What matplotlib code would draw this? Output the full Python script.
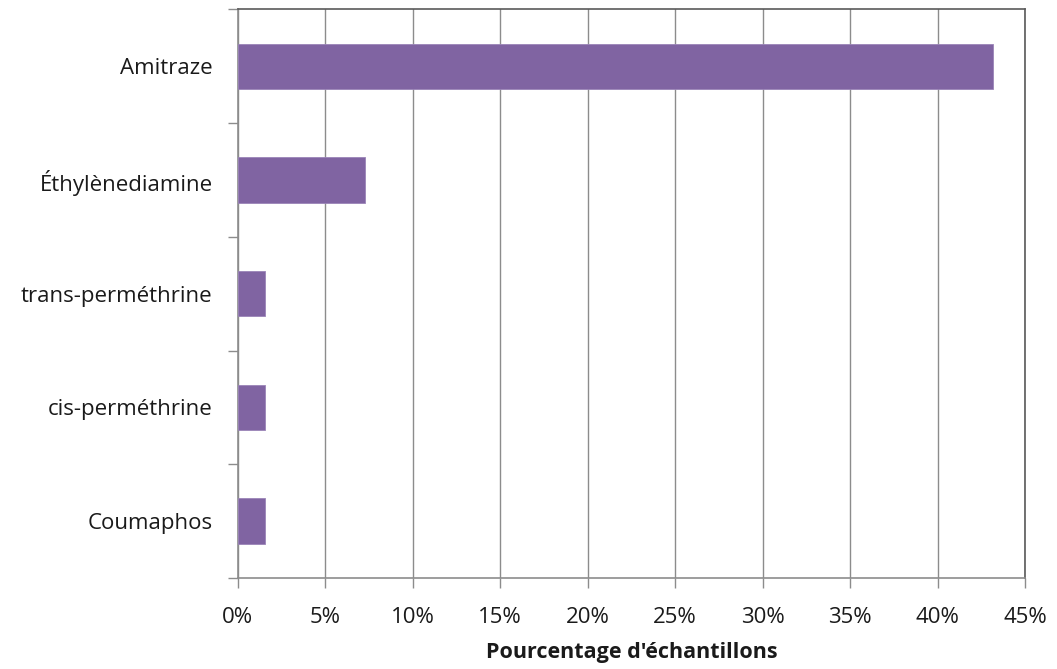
import numpy as np
import matplotlib
matplotlib.use("Agg")
import matplotlib.pyplot as plt
from matplotlib.ticker import FuncFormatter

categories = ["Amitraze", "Éthylènediamine", "trans-perméthrine", "cis-perméthrine", "Coumaphos"]
values = [43.2, 7.27, 1.56, 1.56, 1.56]
x_ticks = [0, 5, 10, 15, 20, 25, 30, 35, 40, 45]

bar_color = "#8064A2"
grid = "#8C8C8C"
border = "#5A5A5A"
text = "#1A1A1A"

plt.rcParams["font.family"] = ["Open Sans", "DejaVu Sans"]

fig = plt.figure(figsize=(10.57, 6.69), dpi=100, facecolor="white")
ax = fig.add_axes([0.2249, 0.136, 0.7448, 0.8498])

y = np.arange(len(categories))
ax.barh(y, values, height=0.4, color=bar_color, edgecolor="#9A84B8", linewidth=0.6, zorder=3)

ax.set_xlim(0, 45)
ax.set_ylim(len(categories) - 0.5, -0.5)

ax.set_xticks(x_ticks)
ax.xaxis.set_major_formatter(FuncFormatter(lambda v, p: f"{v:.0f}%"))
ax.grid(True, axis="x", color=grid, linewidth=1.0, zorder=0)

# category labels at centers, tick marks at boundaries
ax.set_yticks(y)
ax.set_yticklabels(categories)
ax.set_yticks(np.arange(-0.5, len(categories)), minor=True)
ax.tick_params(axis="y", which="major", length=0, pad=18, labelsize=16, colors=text)
ax.tick_params(axis="y", which="minor", length=7, width=1.0, color=grid)
ax.tick_params(axis="x", length=7, width=1.0, color=grid, pad=14, labelsize=16, labelcolor=text)

ax.set_xlabel("Pourcentage d'échantillons", fontsize=15.5, fontweight="bold", color=text, labelpad=10)

ax.spines["left"].set_color(grid)
ax.spines["bottom"].set_color(grid)
ax.spines["top"].set_color(border)
ax.spines["right"].set_color(border)
for s in ax.spines.values():
    s.set_linewidth(1.2)

plt.savefig("out.png", dpi=100, facecolor="white")
plt.close()
